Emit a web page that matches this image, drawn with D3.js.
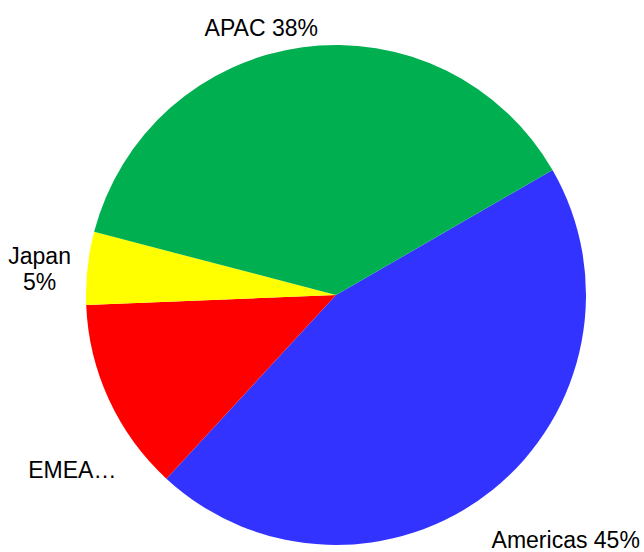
<!DOCTYPE html>
<html>
<head>
<meta charset="utf-8">
<script src="https://cdn.jsdelivr.net/npm/d3@7"></script>
<style>
  body { margin: 0; background: #fff; }
  text { font-family: "Liberation Sans", Arial, sans-serif; font-size: 23px; fill: #000; }
</style>
</head>
<body>
<div id="chart"></div>
<script>
// slice data, in drawing order (clockwise from ~2 o'clock)
const regions = ["Americas", "EMEA", "Japan", "APAC"];
const shares = [45.2, 12.5, 4.7, 37.6];
const labels = [["Americas 45%"], ["EMEA…"], ["Japan", "5%"], ["APAC 38%"]];
const colors = ["#3333FF", "#FF0000", "#FFFF00", "#00B050"];

// where Excel pushed each label, relative to the slice's outer point
const labelNudge = [[58, 30], [-14, 60], [-23, 4], [-38, 5]];

const width = 644, height = 552;
const cx = 336, cy = 295, radius = 250;

const svg = d3.select("#chart")
    .append("svg")
    .attr("width", width)
    .attr("height", height)
    .append("g")
    .attr("transform", `translate(${cx},${cy})`);

const data = regions.map((r, i) => ({ region: r, value: shares[i], i: i }));

const pie = d3.pie()
    .sort(null)
    .value(d => d.value)
    .startAngle(Math.PI / 3)
    .endAngle(Math.PI / 3 + 2 * Math.PI);

const arc = d3.arc().innerRadius(0).outerRadius(radius);
const labelArc = d3.arc().innerRadius(radius * 1.1).outerRadius(radius * 1.1);

const arcs = pie(data);

svg.selectAll("path")
    .data(arcs)
    .join("path")
    .attr("d", arc)
    .attr("fill", d => colors[d.data.i]);

const lab = svg.selectAll("text.lbl")
    .data(arcs)
    .join("text")
    .attr("class", "lbl")
    .attr("text-anchor", "middle")
    .attr("transform", d => {
        const c = labelArc.centroid(d);
        const n = labelNudge[d.data.i];
        return `translate(${c[0] + n[0]},${c[1] + n[1]})`;
    });

lab.each(function(d) {
    const lines = labels[d.data.i];
    const t = d3.select(this);
    lines.forEach((ln, k) => {
        t.append("tspan")
            .attr("x", 0)
            .attr("y", (k - (lines.length - 1) / 2) * 26)
            .attr("dy", "0.35em")
            .text(ln);
    });
});
</script>
</body>
</html>
